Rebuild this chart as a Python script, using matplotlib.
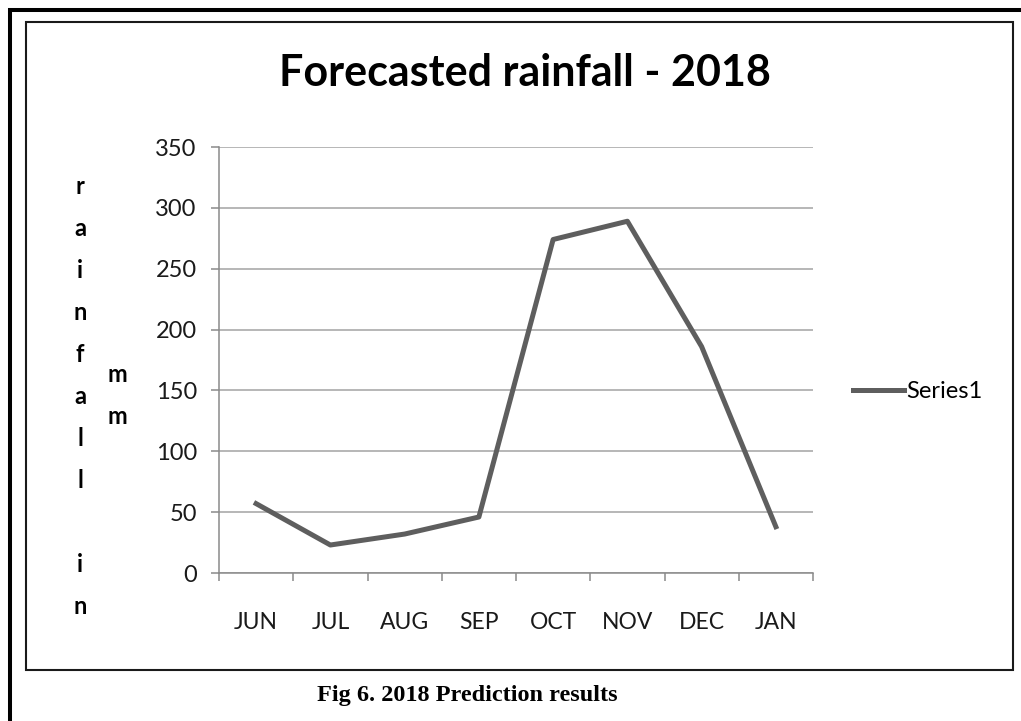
import matplotlib

matplotlib.use("Agg")
import matplotlib.pyplot as plt
from matplotlib.patches import Rectangle

plt.rcParams["font.family"] = ["Lato", "DejaVu Sans"]

# forecast values (mm)
months = ["JUN", "JUL", "AUG", "SEP", "OCT", "NOV", "DEC", "JAN"]
rainfall = [57, 23, 32, 46, 274, 289, 186, 38]
y_ticks = [0, 50, 100, 150, 200, 250, 300, 350]
series_name = "Series1"

W, H = 1021, 721
fig = plt.figure(figsize=(W / 100, H / 100), dpi=100)

# outer page frame (runs off the right and bottom edge) and inner chart box
fig.add_artist(Rectangle((10 / W, -0.1), 1.2, 1.1 - 9.5 / H, transform=fig.transFigure,
                         fill=False, lw=2.9, ec="black", clip_on=False))
fig.add_artist(Rectangle((26 / W, 1 - 669.5 / H), (1013 - 26) / W, (669.5 - 22) / H,
                         transform=fig.transFigure, fill=False, lw=1.5, ec="#1a1a1a"))

ax = fig.add_axes([219 / W, 1 - 573 / H, (813 - 219) / W, (573 - 147) / H])
x = list(range(len(months)))
line, = ax.plot(x, rainfall, color="#5e5e5e", lw=3.6, label=series_name)

ax.set_xlim(-0.5, len(months) - 0.5)
ax.set_ylim(0, 350)
ax.set_yticks(y_ticks)
ax.set_xticks(x)
ax.set_xticklabels(months)
ax.set_xticks([i - 0.5 for i in range(len(months) + 1)], minor=True)

ax.grid(axis="y", color="#a3a3a3", lw=1.1)
ax.set_axisbelow(True)
for s in ["top", "right"]:
    ax.spines[s].set_visible(False)
for s in ["left", "bottom"]:
    ax.spines[s].set_color("#8a8a8a")
    ax.spines[s].set_linewidth(1.1)

ax.tick_params(axis="y", length=6, width=1.1, color="#8a8a8a", labelsize=17, pad=10,
               labelcolor="#1a1a1a")
ax.tick_params(axis="x", which="major", length=0, labelsize=16.5, pad=28, labelcolor="#1a1a1a")
ax.tick_params(axis="x", which="minor", length=6, width=1.1, color="#8a8a8a")

fig.text(525 / W, 1 - 73 / H, "Forecasted rainfall - 2018", ha="center", va="center",
         fontsize=31, fontweight="bold")

fig.text(80 / W, 1 - 396 / H, "r\na\ni\nn\nf\na\nl\nl\n\ni\nn", ha="center", va="center",
         ma="center", fontsize=17, fontweight="bold", linespacing=2.0)
fig.text(117 / W, 1 - 396 / H, "m\nm", ha="center", va="center", ma="center",
         fontsize=17, fontweight="bold", linespacing=2.0)

fig.legend(handles=[line], loc="center left", bbox_to_anchor=(853 / W, 1 - 392 / H),
           bbox_transform=fig.transFigure, frameon=False, fontsize=17, handlelength=2.15,
           handletextpad=0.12, borderpad=0, borderaxespad=0)

fig.text(467 / W, 1 - 695 / H, "Fig 6. 2018 Prediction results", ha="center", va="center",
         fontsize=17.5, fontweight="bold", family="Liberation Serif")

fig.savefig("out.png", dpi=100)
